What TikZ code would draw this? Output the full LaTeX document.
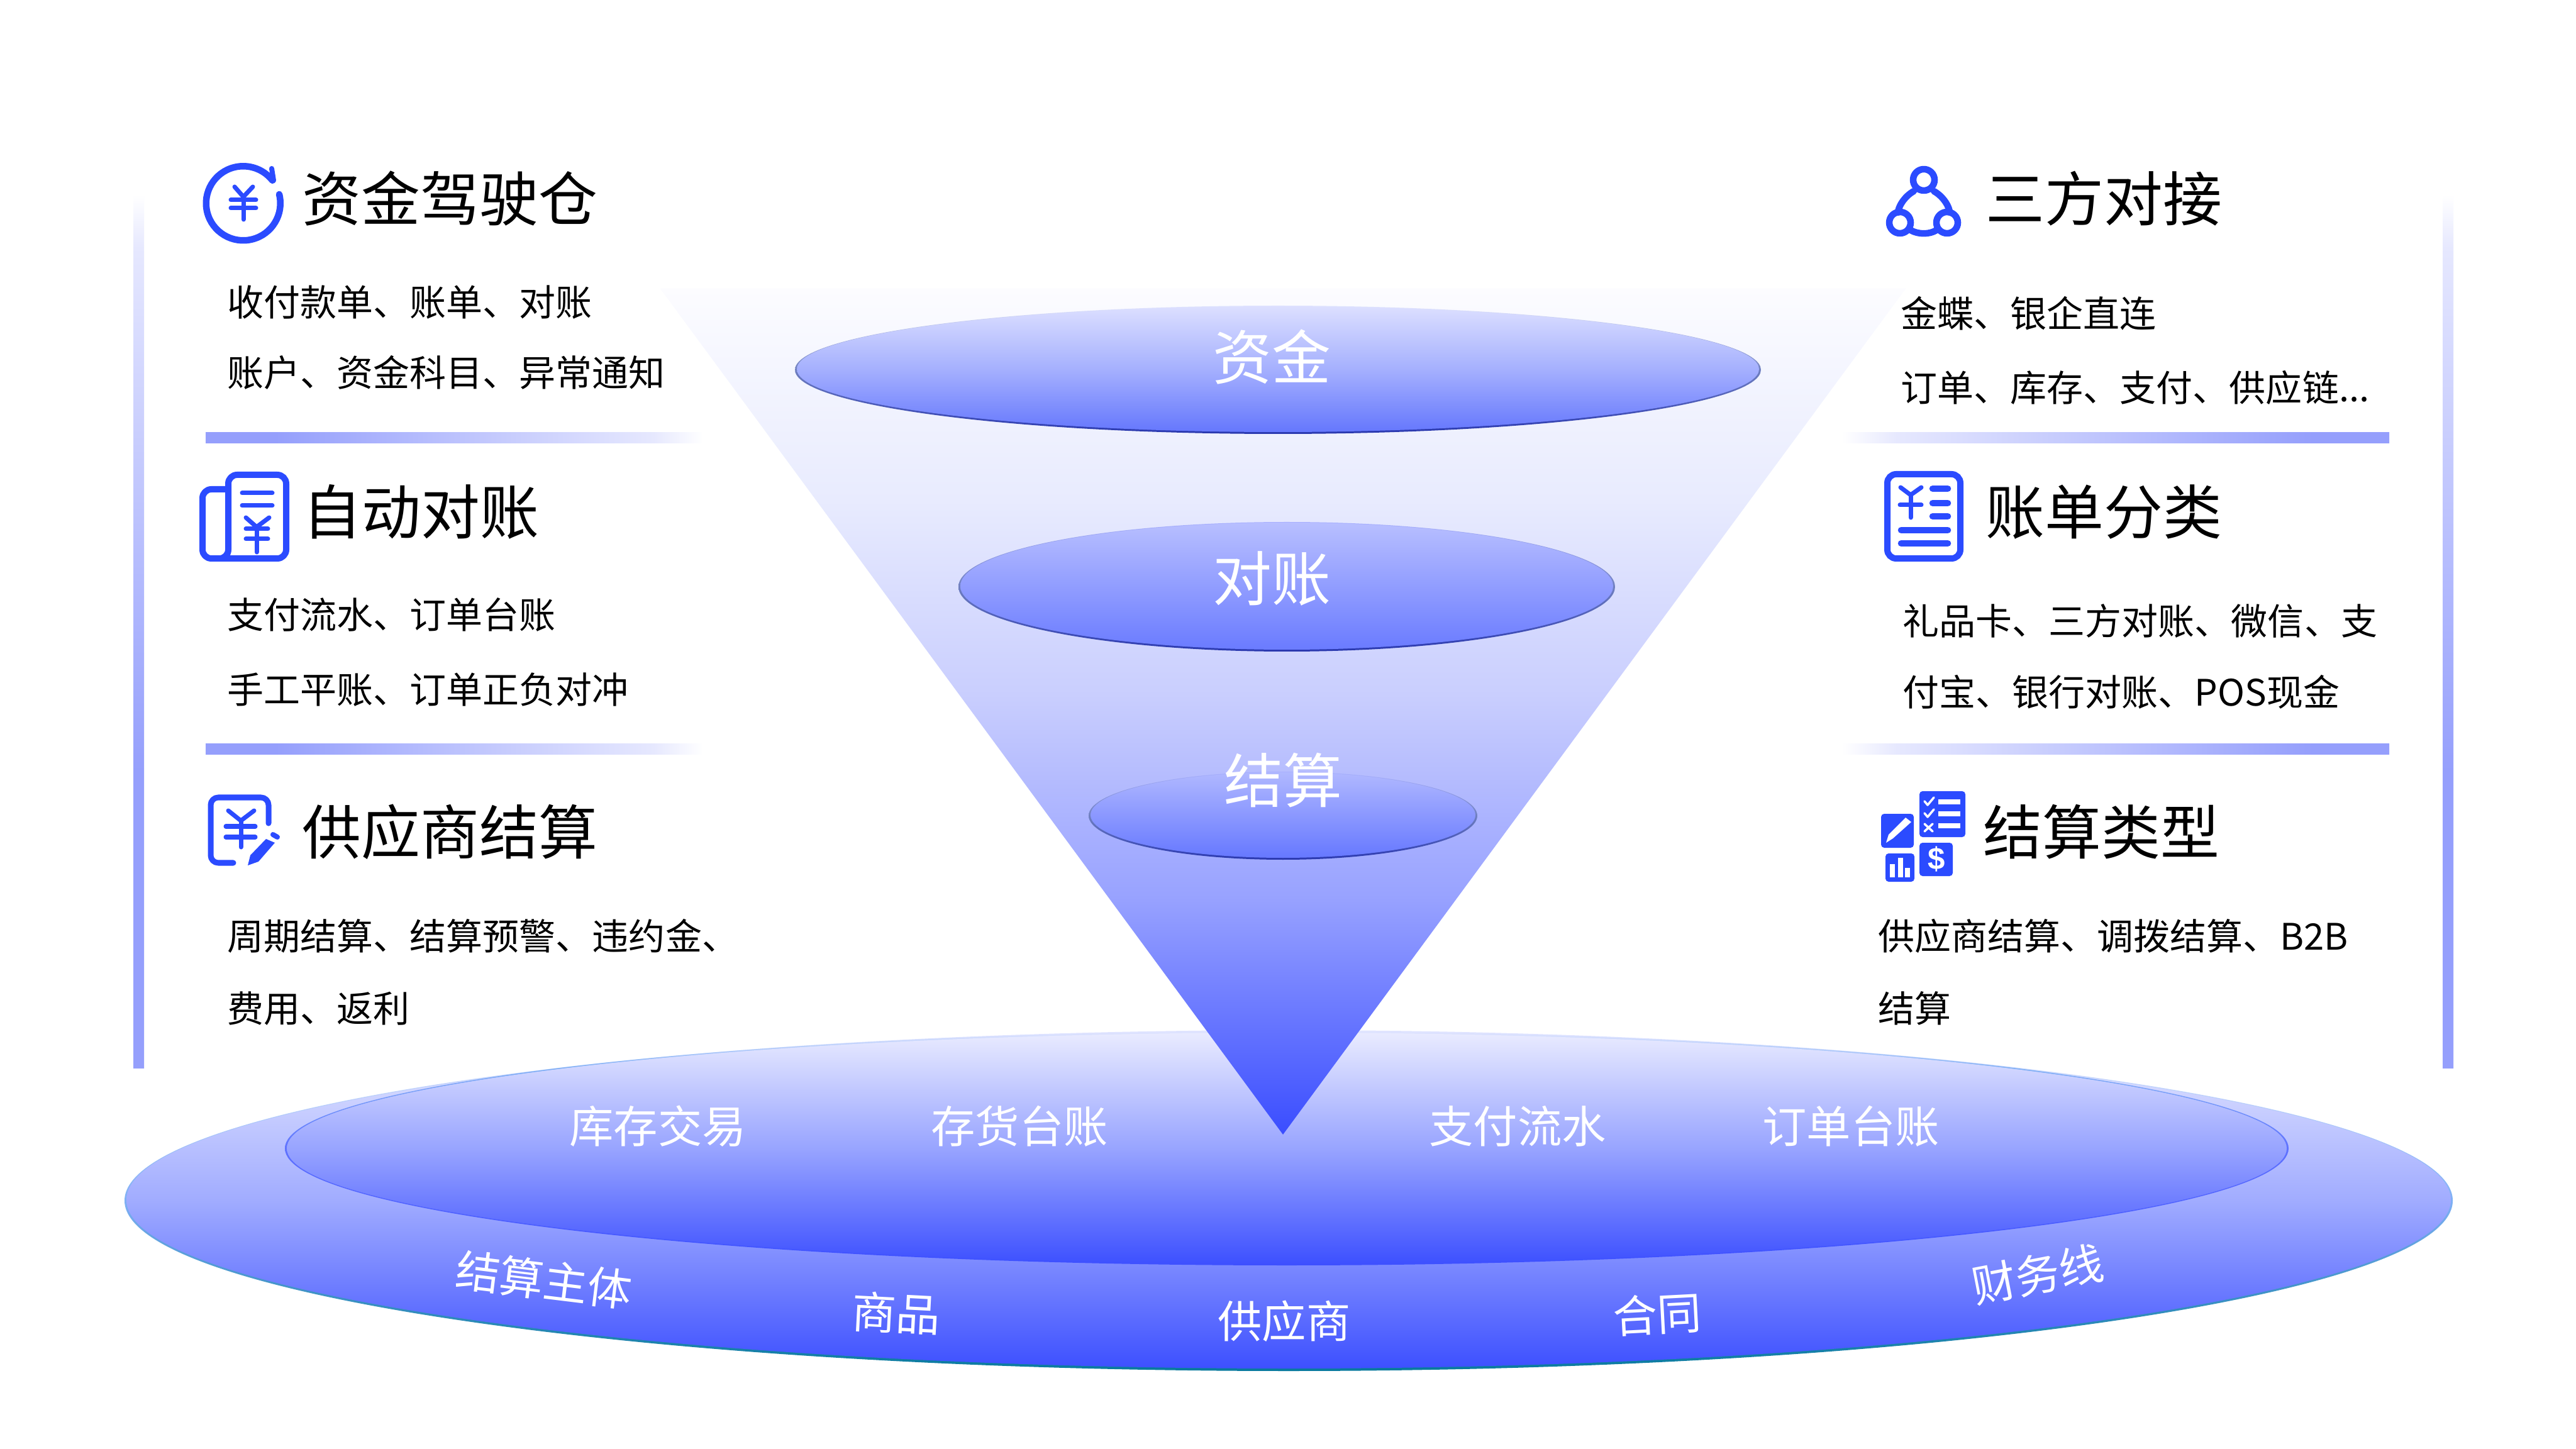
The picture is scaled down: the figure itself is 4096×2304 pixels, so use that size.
\documentclass[tikz,border=0pt]{standalone}
\usepackage{fontspec}
\setmainfont{Noto Sans CJK SC}
\newfontfamily\dollarfont{Liberation Sans}
\usetikzlibrary{calc}
\definecolor{iconblue}{HTML}{2B4BFF}
\definecolor{c3A4DFF}{HTML}{3A4DFF}\definecolor{c98A2FF}{HTML}{98A2FF}\definecolor{cC9CEFE}{HTML}{C9CEFE}
\definecolor{cE8EBFE}{HTML}{E8EBFE}\definecolor{cFCFCFF}{HTML}{FCFCFF}
\pgfdeclareverticalshading{funnelshade}{100bp}{
  color(0bp)=(c3A4DFF); color(25bp)=(c3A4DFF); color(39bp)=(c98A2FF); color(51bp)=(cC9CEFE); color(62.5bp)=(cE8EBFE); color(75bp)=(cFCFCFF); color(100bp)=(cFCFCFF)}
\definecolor{barc}{HTML}{959FFC}
\definecolor{barl}{HTML}{E6E8FE}
\definecolor{eA}{HTML}{DCDFFF}\definecolor{eB}{HTML}{A5B0FE}\definecolor{eC}{HTML}{6577FD}
\definecolor{fA}{HTML}{B8BFFF}\definecolor{fC}{HTML}{6A7BFF}
\definecolor{gA}{HTML}{B0B8FF}\definecolor{gC}{HTML}{6678FF}
\definecolor{oA}{HTML}{E9EBFF}\definecolor{oB}{HTML}{A1ACFF}\definecolor{oC}{HTML}{3D50FF}
\definecolor{iB}{HTML}{98A4FF}
\definecolor{rimTeal}{HTML}{087A9E}\definecolor{rimSky}{HTML}{7FB0F5}\definecolor{rimPale}{HTML}{E0E4FF}
\definecolor{rimNavy}{HTML}{2A38B0}\definecolor{rimMid}{HTML}{7080C0}
\definecolor{rimIn}{HTML}{5F72FF}\definecolor{rimTop}{HTML}{A8B0FF}
\pgfdeclareverticalshading{eshade}{100bp}{color(0bp)=(eC); color(25bp)=(eC); color(50bp)=(eB); color(75bp)=(eA); color(100bp)=(eA)}
\pgfdeclareverticalshading{fshade}{100bp}{color(0bp)=(fC); color(25bp)=(fC); color(75bp)=(fA); color(100bp)=(fA)}
\pgfdeclareverticalshading{gshade}{100bp}{color(0bp)=(gC); color(25bp)=(gC); color(75bp)=(gA); color(100bp)=(gA)}
\pgfdeclareverticalshading{oshade}{100bp}{color(0bp)=(oC); color(25bp)=(oC); color(50bp)=(oB); color(75bp)=(oA); color(100bp)=(oA)}
\pgfdeclareverticalshading{ishade}{100bp}{color(0bp)=(oC); color(25bp)=(oC); color(50bp)=(iB); color(75bp)=(oA); color(100bp)=(oA)}
\pgfdeclareverticalshading{rimo}{100bp}{color(0bp)=(rimTeal); color(25bp)=(rimTeal); color(50bp)=(rimSky); color(75bp)=(rimPale); color(100bp)=(rimPale)}
\pgfdeclareverticalshading{rimi}{100bp}{color(0bp)=(oC); color(25bp)=(oC); color(50bp)=(rimIn); color(67bp)=(rimSky); color(75bp)=(rimPale); color(100bp)=(rimPale)}
\pgfdeclareverticalshading{rims}{100bp}{color(0bp)=(rimNavy); color(25bp)=(rimNavy); color(50bp)=(rimMid); color(75bp)=(rimPale); color(100bp)=(rimPale)}
\pgfdeclareverticalshading{rimt}{100bp}{color(0bp)=(rimNavy); color(25bp)=(rimNavy); color(50bp)=(rimMid); color(75bp)=(rimTop); color(100bp)=(rimTop)}
\pgfdeclareverticalshading{vbar}{100bp}{color(0bp)=(barc); color(42bp)=(barc); color(72bp)=(barl); color(75bp)=(white); color(100bp)=(white)}
\pgfdeclarehorizontalshading{hbarl}{100bp}{color(0bp)=(barc); color(32bp)=(barc); color(70bp)=(barl); color(75bp)=(white); color(100bp)=(white)}
\pgfdeclarehorizontalshading{hbarr}{100bp}{color(0bp)=(white); color(25bp)=(white); color(30bp)=(barl); color(68bp)=(barc); color(100bp)=(barc)}
\tikzset{
  ttl/.style={anchor=base west,inner sep=0pt,font=\fontsize{26.7}{30}\selectfont,text=black},
  bodytxt/.style={anchor=base west,inner sep=0pt,font=\fontsize{16.5}{20}\selectfont,text=black},
  funlab/.style={anchor=center,inner sep=0pt,font=\fontsize{26.7}{30}\selectfont,text=white},
  ringlab/.style={anchor=center,inner sep=0pt,font=\fontsize{20}{24}\selectfont,text=white},
  ico/.style={draw=iconblue,line width=0.07cm,line cap=round,line join=round},
  icob/.style={draw=iconblue,line width=0.105cm,line cap=round,line join=round},
  icow/.style={draw=white,line width=0.035cm,line cap=round,line join=round},
  boxf/.style={fill=iconblue,rounded corners=0.05cm},
}
\begin{document}
\begin{tikzpicture}[x=0.01cm,y=-0.01cm]
\useasboundingbox (0,0) rectangle (4096,2304);
\fill[white] (0,0) rectangle (4096,2304);
% side bars
\shade[shading=vbar] (212,310) rectangle (229,1698);
\shade[shading=vbar] (3884,310) rectangle (3901,1698);
% separators
\shade[shading=hbarl] (327,688) rectangle (1118,705);
\shade[shading=hbarl] (327,1183) rectangle (1118,1200);
\shade[shading=hbarr] (2929,688) rectangle (3799,705);
\shade[shading=hbarr] (2929,1183) rectangle (3799,1200);
% base ellipses
\shade[shading=rimo] (2049,1909) ellipse [x radius=1851,y radius=271];
\shade[shading=oshade] (2049,1908) ellipse [x radius=1848,y radius=268];
\shade[shading=rimi] (2046,1826) ellipse [x radius=1593,y radius=186];
\shade[shading=ishade] (2046,1826) ellipse [x radius=1590,y radius=184];
% funnel
\shade[shading=funnelshade] (1050,459) -- (3030,459) -- (2040,1804) -- cycle;
% funnel ellipses
\shade[shading=rims] (2032,588) ellipse [x radius=768,y radius=102];
\shade[shading=eshade] (2032,587) ellipse [x radius=765,y radius=100];
\shade[shading=rimt] (2046,933) ellipse [x radius=522,y radius=103];
\shade[shading=fshade] (2046,932) ellipse [x radius=519,y radius=101];
\shade[shading=rimt] (2040,1297) ellipse [x radius=309,y radius=70];
\shade[shading=gshade] (2040,1296) ellipse [x radius=306,y radius=68];
% funnel labels
\node[funlab] (fa) at (2022,567) {资金};
\node[funlab] (fb) at (2022,920) {对账};
\node[funlab] (fc) at (2040,1241) {结算};
% ring labels
\node[ringlab] (ra) at (1046,1791) {库存交易};
\node[ringlab] (rb) at (1621,1791) {存货台账};
\node[ringlab] (rc) at (2413,1791) {支付流水};
\node[ringlab] (rd) at (2943,1791) {订单台账};
\node[ringlab,rotate=-7] (re) at (865,2035) {结算主体};
\node[ringlab,rotate=-3] (rf) at (1425,2088) {商品};
\node[ringlab] (rg) at (2042,2101) {供应商};
\node[ringlab,rotate=3] (rh) at (2635,2090) {合同};
\node[ringlab,rotate=11] (ri) at (3240,2026) {财务线};
% left texts
\node[ttl] (t1) at (480,352) {资金驾驶仓};
\node[bodytxt] (b1a) at (361,503) {收付款单、账单、对账};
\node[bodytxt] (b1b) at (361,615) {账户、资金科目、异常通知};
\node[ttl] (t2) at (481,850) {自动对账};
\node[bodytxt] (b2a) at (361,1000) {支付流水、订单台账};
\node[bodytxt] (b2b) at (361,1119) {手工平账、订单正负对冲};
\node[ttl] (t3) at (480,1358) {供应商结算};
\node[bodytxt] (b3a) at (361,1510) {周期结算、结算预警、违约金、};
\node[bodytxt] (b3b) at (361,1625) {费用、返利};
% right texts
\node[ttl] (t4) at (3157,352) {三方对接};
\node[bodytxt] (b4a) at (3022,521) {金蝶、银企直连};
\node[bodytxt] (b4b) at (3022,639) {订单、库存、支付、供应链...};
\node[ttl] (t5) at (3157,850) {账单分类};
\node[bodytxt] (b5a) at (3025,1010) {礼品卡、三方对账、微信、支};
\node[bodytxt] (b5b) at (3025,1123) {付宝、银行对账、POS现金};
\node[ttl] (t6) at (3153,1358) {结算类型};
\node[bodytxt] (b6a) at (2986,1510) {供应商结算、调拨结算、B2B};
\node[bodytxt] (b6b) at (2986,1625) {结算};
% icon 1
\draw[icob] (444,309) arc (-14:322:59);
\draw[draw=iconblue,line width=0.08cm,line cap=round] (432,268) -- (435,287);
\draw[ico] (373,297) -- (387,313) -- (402,297);
\draw[ico] (367,318) -- (407,318);
\draw[ico] (367,331) -- (407,331);
\draw[ico] (387,313) -- (387,349);
% icon 2
\draw[draw=iconblue,line width=0.1cm,line join=round,rounded corners=0.14cm]
  (363,778) -- (322,778) -- (322,888) -- (363,888) -- (363,755) -- (455,755) -- (455,888) -- (340,888);
\draw[ico] (385,784) -- (433,784);
\draw[ico] (385,804) -- (433,804);
\draw[ico] (391,823) -- (408,838) -- (428,823);
\draw[ico] (391,841) -- (426,841);
\draw[ico] (391,857) -- (426,857);
\draw[ico] (408,838) -- (408,878);
% icon 3
\draw[draw=iconblue,line width=0.09cm,line cap=round,line join=round,rounded corners=0.12cm]
  (371,1372) -- (335,1372) -- (335,1268) -- (427,1268) -- (427,1309);
\draw[ico] (363,1289) -- (383,1305) -- (404,1289);
\draw[ico] (359,1314) -- (406,1314);
\draw[ico] (359,1331) -- (406,1331);
\draw[ico] (383,1305) -- (383,1347);
\fill[iconblue] (394,1376) -- (398,1360) -- (423,1334) -- (437,1340) -- (411,1370) -- cycle;
\draw[draw=iconblue,line width=0.08cm,line cap=round] (434,1327) -- (441,1331);
% icon 4
\draw[icob] (3059,286) circle [radius=17];
\draw[icob] (3021,354) circle [radius=17];
\draw[icob] (3096,354) circle [radius=17];
\draw[icob] (3043,304) .. controls (3027,313) and (3018,330) .. (3018,338);
\draw[icob] (3075,304) .. controls (3091,313) and (3100,330) .. (3100,338);
\draw[icob] (3038,366) .. controls (3050,373) and (3068,373) .. (3079,366);
% icon 5
\draw[draw=iconblue,line width=0.1cm,rounded corners=0.14cm] (3001,754) rectangle (3117,888);
\draw[ico] (3022,775) -- (3038,787) -- (3055,775);
\draw[ico] (3021,803) -- (3055,803);
\draw[ico] (3038,787) -- (3038,823);
\draw[icob] (3073,777) -- (3097,777);
\draw[icob] (3073,800) -- (3097,800);
\draw[icob] (3073,821) -- (3097,821);
\draw[icob] (3023,843) -- (3097,843);
\draw[icob] (3023,864) -- (3097,864);
% icon 6
\fill[boxf] (3052,1258) rectangle (3125,1331);
\fill[boxf] (2991,1294) rectangle (3043,1348);
\fill[boxf] (2998,1357) rectangle (3044,1402);
\fill[boxf] (3052,1340) rectangle (3105,1393);
\fill[white] (3082,1271) rectangle (3117,1279);
\fill[white] (3082,1290) rectangle (3117,1298);
\fill[white] (3082,1309) rectangle (3117,1317);
\draw[icow] (3060,1274) -- (3065,1280) -- (3075,1268);
\draw[icow] (3060,1293) -- (3065,1299) -- (3075,1287);
\draw[icow] (3060,1310) -- (3073,1322);
\draw[icow] (3073,1310) -- (3060,1322);
\fill[white] (3030,1300) -- (3039,1307) -- (3010,1333) -- (2999,1340) -- (3003,1327) -- cycle;
\fill[white] (3005,1374) rectangle (3013,1395);
\fill[white] (3018,1364) rectangle (3026,1395);
\fill[white] (3029,1380) rectangle (3037,1395);
\node[inner sep=0pt,text=white,font=\dollarfont\bfseries\fontsize{14}{16}\selectfont] (dollar) at (3079,1366) {\$};
\end{tikzpicture}
\end{document}
